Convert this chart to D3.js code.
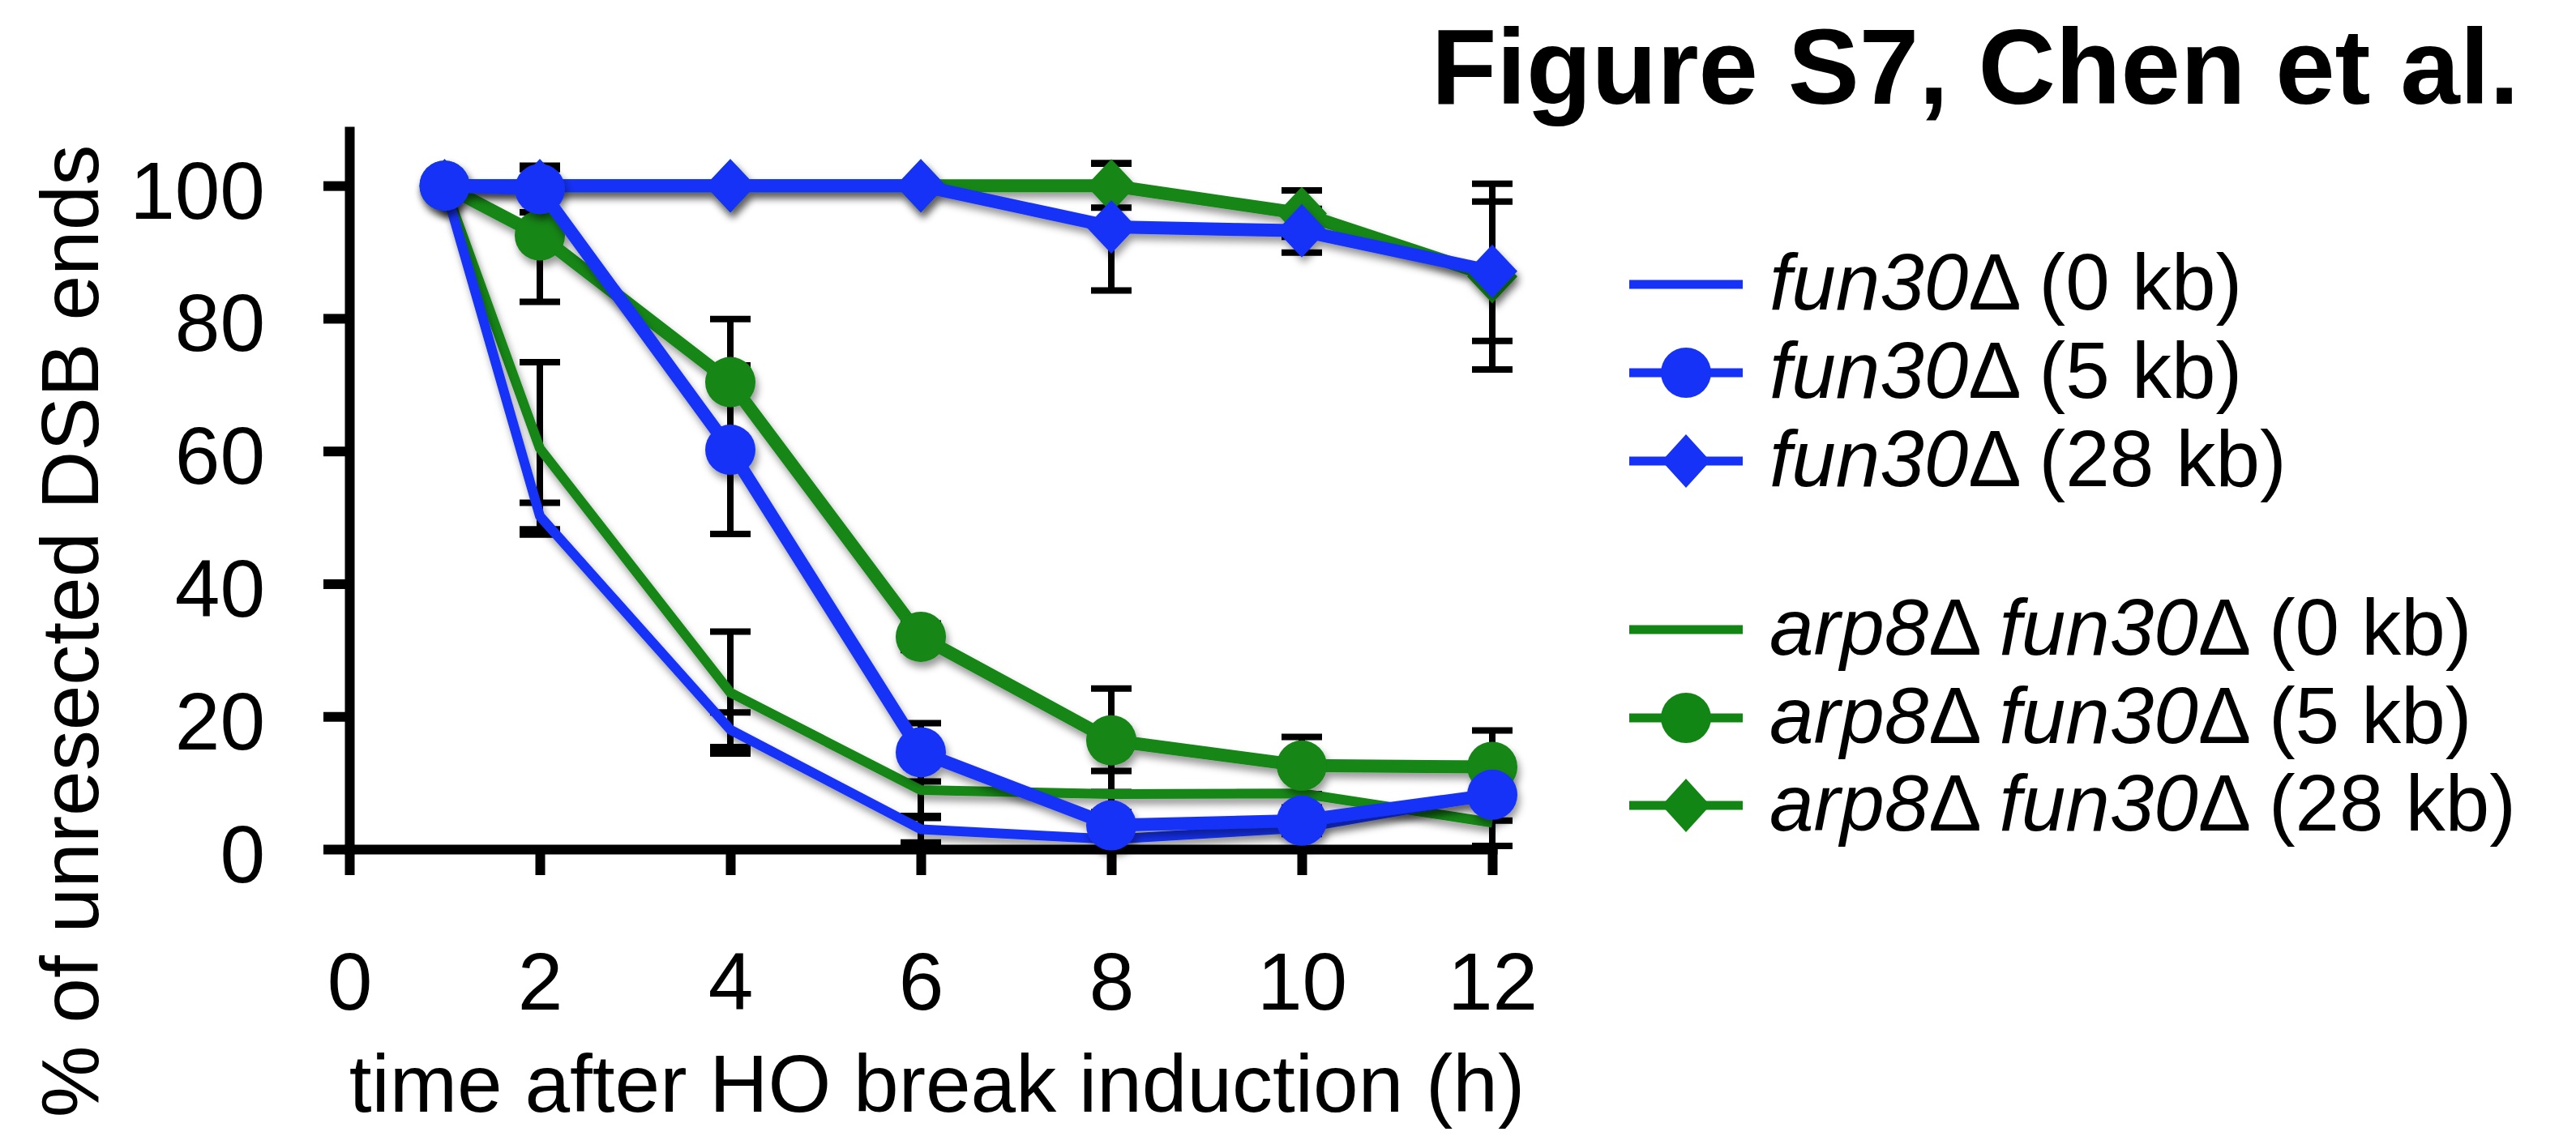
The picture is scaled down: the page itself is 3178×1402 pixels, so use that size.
<!DOCTYPE html>
<html><head><meta charset="utf-8">
<script src="https://cdn.jsdelivr.net/npm/d3@7"></script>
<style>
html,body{margin:0;padding:0;background:#fff;}
svg{display:block;}
text{font-family:"Liberation Sans",Arial,Helvetica,sans-serif;fill:#000;}
</style>
</head><body>
<svg id="chart" width="3178" height="1402"></svg>
<script>
// ---------- data ----------
const times = [1, 2, 4, 6, 8, 10, 12];
const xTicks = [0, 2, 4, 6, 8, 10, 12];
const yTicks = [0, 20, 40, 60, 80, 100];

const fun30_0kb      = [100, 50.2, 18.0, 3.0, 1.5, 3.2, 8.2];
const fun30_0kb_err  = [0, 2.0, 2.6, 2.0, 0, 0, 0];
const fun30_5kb      = [100, 99.5, 60.2, 14.6, 3.6, 4.3, 8.2];
const fun30_5kb_err  = [0, 3.5, 12.7, 4.4, 2.0, 2.0, 3.9];
const fun30_28kb     = [100, 100, 100, 100, 93.8, 93.2, 87.1];
const fun30_28kb_err = [0, 0, 0, 0, 9.6, 3.3, 10.5];

const arp8_0kb       = [100, 60.4, 23.6, 8.9, 8.3, 8.4, 4.0];
const arp8_0kb_err   = [0, 13.0, 9.2, 4.2, 3.5, 0, 3.5];
const arp8_5kb       = [100, 92.5, 70.4, 32.0, 16.4, 12.6, 12.4];
const arp8_5kb_err   = [0, 10.0, 9.5, 2.0, 7.8, 4.3, 5.5];
const arp8_28kb      = [100, 100, 100, 100, 100, 95.8, 86.3];
const arp8_28kb_err  = [0, 0, 0, 0, 3.3, 3.5, 14.0];

// legend text segments: [text, italic?]
const legendSegments = [
  [["fun30", true], ["Δ (0 kb)", false]],
  [["fun30", true], ["Δ (5 kb)", false]],
  [["fun30", true], ["Δ (28 kb)", false]],
  [["arp8", true], ["Δ ", false], ["fun30", true], ["Δ (0 kb)", false]],
  [["arp8", true], ["Δ ", false], ["fun30", true], ["Δ (5 kb)", false]],
  [["arp8", true], ["Δ ", false], ["fun30", true], ["Δ (28 kb)", false]]
];

const titleText = "Figure S7, Chen et al.";
const xTitle = "time after HO break induction (h)";
const yTitle = "% of unresected DSB ends";

// ---------- styles ----------
const BLUE = "#1532F6", GREEN = "#128614";
const series = [
  {vals: fun30_0kb,  err: fun30_0kb_err,  color: BLUE,  marker: "none",    legend: 0},
  {vals: fun30_5kb,  err: fun30_5kb_err,  color: BLUE,  marker: "circle",  legend: 1},
  {vals: fun30_28kb, err: fun30_28kb_err, color: BLUE,  marker: "diamond", legend: 2},
  {vals: arp8_0kb,   err: arp8_0kb_err,   color: GREEN, marker: "none",    legend: 3},
  {vals: arp8_5kb,   err: arp8_5kb_err,   color: GREEN, marker: "circle",  legend: 4},
  {vals: arp8_28kb,  err: arp8_28kb_err,  color: GREEN, marker: "diamond", legend: 5}
];
const drawOrder = [3, 5, 4, 0, 2, 1];

const svg = d3.select("#chart");
svg.append("rect").attr("width", 3178).attr("height", 1402).attr("fill", "#fff");

const filt = svg.append("defs").append("filter").attr("id", "shadow")
  .attr("x", "-20%").attr("y", "-20%").attr("width", "140%").attr("height", "140%");
filt.append("feDropShadow").attr("dx", 3).attr("dy", 7).attr("stdDeviation", 5)
  .attr("flood-color", "#000").attr("flood-opacity", 0.4);

const x = d3.scaleLinear().domain([0, 12]).range([431, 1841]);
const y = d3.scaleLinear().domain([0, 108.2]).range([1048, 162]);

// ---------- axes ----------
const gy = svg.append("g").attr("transform", `translate(${x(0)},0)`)
  .call(d3.axisLeft(y).tickValues(yTicks).tickSize(32).tickSizeOuter(0).tickPadding(72));
const gx = svg.append("g").attr("transform", `translate(0,${y(0)})`)
  .call(d3.axisBottom(x).tickValues(xTicks).tickSize(32).tickSizeOuter(0).tickPadding(95));
[gy, gx].forEach(g => {
  g.select(".domain").attr("stroke", "#000").attr("stroke-width", 12).attr("stroke-linecap", "square");
  g.selectAll(".tick line").attr("stroke", "#000").attr("stroke-width", 12);
  g.selectAll(".tick text").attr("font-size", 100).attr("font-family", '"Liberation Sans",Arial,sans-serif').attr("fill", "#000");
});
gy.selectAll(".tick text").attr("dy", "0.4em");

// ---------- error bars ----------
const gErr = svg.append("g");
drawOrder.forEach(si => {
  const s = series[si];
  s.vals.forEach((v, i) => {
    const e = s.err[i];
    if (!e) return;
    const cx = x(times[i]);
    gErr.append("line").attr("x1", cx).attr("x2", cx).attr("y1", y(v + e)).attr("y2", y(v - e))
      .attr("stroke", "#000").attr("stroke-width", 8);
    [v + e, v - e].forEach(b => {
      gErr.append("line").attr("x1", cx - 25).attr("x2", cx + 25).attr("y1", y(b)).attr("y2", y(b))
        .attr("stroke", "#000").attr("stroke-width", 8);
    });
  });
});

// ---------- series ----------
function diamondPath(cx, cy, hw, hh) {
  return `M${cx},${cy - hh}L${cx + hw},${cy}L${cx},${cy + hh}L${cx - hw},${cy}Z`;
}
const line = d3.line().x(d => x(d.t)).y(d => y(d.v));
drawOrder.forEach(si => {
  const s = series[si];
  const pts = s.vals.map((v, i) => ({t: times[i], v: v}));
  const g = svg.append("g").attr("filter", "url(#shadow)");
  g.append("path").attr("d", line(pts)).attr("fill", "none").attr("stroke", s.color)
    .attr("stroke-width", s.marker === "none" ? 12 : 16).attr("stroke-linejoin", "round");
  if (s.marker === "circle") {
    g.selectAll("circle").data(pts).join("circle")
      .attr("cx", d => x(d.t)).attr("cy", d => y(d.v)).attr("r", 31).attr("fill", s.color);
  } else if (s.marker === "diamond") {
    g.selectAll("path.dm").data(pts).join("path").attr("class", "dm")
      .attr("d", d => diamondPath(x(d.t), y(d.v), 31, 33)).attr("fill", s.color);
  }
});

// ---------- legend ----------
const legendRows = [351, 460, 569, 777, 886, 994];
const gl = svg.append("g");
series.forEach(s => {
  const ry = legendRows[s.legend];
  gl.append("line").attr("x1", 2010).attr("x2", 2150).attr("y1", ry).attr("y2", ry)
    .attr("stroke", s.color).attr("stroke-width", 11);
  if (s.marker === "circle") {
    gl.append("circle").attr("cx", 2080).attr("cy", ry).attr("r", 31).attr("fill", s.color);
  } else if (s.marker === "diamond") {
    gl.append("path").attr("d", diamondPath(2080, ry, 30, 33)).attr("fill", s.color);
  }
  const t = gl.append("text").attr("x", 2183).attr("y", ry + 31).attr("font-size", 98);
  legendSegments[s.legend].forEach(([txt, it]) => {
    t.append("tspan").attr("font-style", it ? "italic" : "normal").text(txt);
  });
});

// ---------- titles ----------
svg.append("text").attr("x", 3108).attr("y", 128).attr("text-anchor", "end")
  .attr("font-size", 132).attr("font-weight", "bold").text(titleText);
svg.append("text").attr("x", 1156).attr("y", 1372).attr("text-anchor", "middle")
  .attr("font-size", 100).text(xTitle);
svg.append("text").attr("transform", "translate(121,779) rotate(-90)").attr("text-anchor", "middle")
  .attr("font-size", 100).text(yTitle);
</script>
</body></html>
